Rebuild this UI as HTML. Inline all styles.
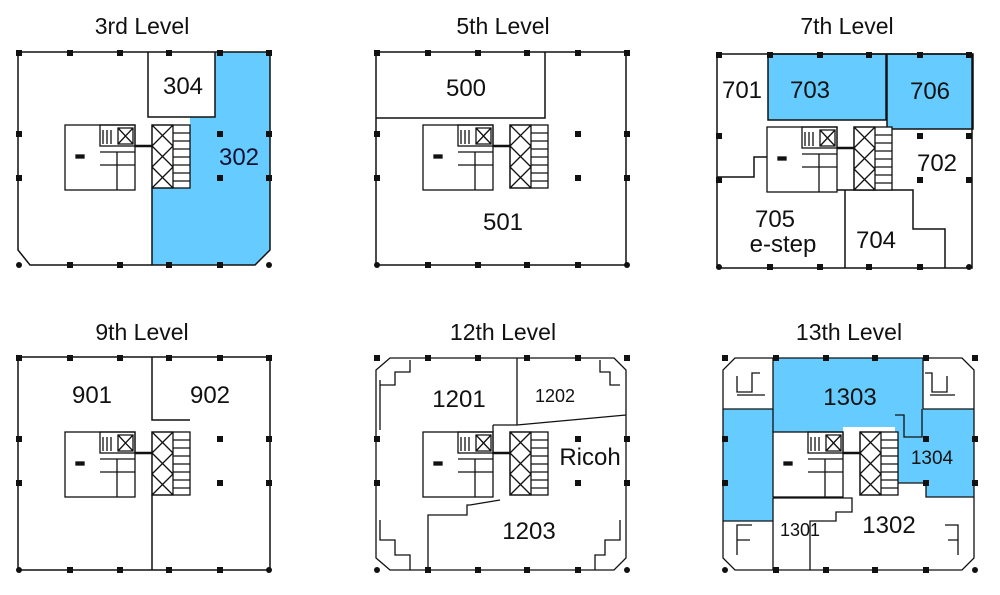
<!DOCTYPE html>
<html><head><style>
html,body{margin:0;padding:0;background:#fff;}
svg{display:block;}
text{font-family:"Liberation Sans",sans-serif;fill:#111;}
.t{font-size:23px;text-anchor:middle;}
.n{font-size:24px;text-anchor:middle;}
</style></head><body>
<svg width="1000" height="595" viewBox="0 0 1000 595" xmlns="http://www.w3.org/2000/svg">
<defs>
<g id="core" stroke="#111" stroke-width="1.3" fill="none">
  <rect x="65" y="125" width="70" height="65" fill="#fff"/>
  <rect x="100" y="125" width="35" height="21"/>
  <path d="M118 128h15v16h-15z M118 128l15 16 M133 128l-15 16"/>
  <path d="M103 130v14 M107 130v14 M111 130v14"/>
  <path d="M100 152h35 M117 152v38 M100 165h35"/>
  <rect x="152" y="125" width="38" height="63" fill="#fff"/>
  <path d="M152 125h21v63h-21z M152 125l21 21 M173 125l-21 21 M152 146l21 21 M173 146l-21 21 M152 167l21 21 M173 167l-21 21"/>
  <path d="M173 133h17 M173 141h17 M173 149h17 M173 157h17 M173 165h17 M173 173h17 M173 181h17"/>
  <path d="M135 146h17" stroke-width="2.5"/>
  <rect x="76" y="155" width="8" height="3" fill="#111"/>
</g>
<g id="cols" fill="#111">
  <rect x="16" y="50" width="6" height="6"/><rect x="67" y="50" width="6" height="6"/><rect x="117" y="50" width="6" height="6"/><rect x="166" y="50" width="6" height="6"/><rect x="217" y="50" width="6" height="6"/><rect x="266" y="50" width="6" height="6"/>
  <rect x="16" y="131" width="6" height="6"/><rect x="266" y="131" width="6" height="6"/><rect x="16" y="175" width="6" height="6"/><rect x="266" y="175" width="6" height="6"/>
  <rect x="217" y="131" width="6" height="6"/><rect x="217" y="175" width="6" height="6"/>
  <rect x="67" y="262" width="6" height="6"/><rect x="117" y="262" width="6" height="6"/><rect x="166" y="262" width="6" height="6"/><rect x="217" y="262" width="6" height="6"/>
  <circle cx="19" cy="265" r="3"/><circle cx="269" cy="265" r="3"/>
</g>
</defs>

<text class="t" x="142" y="34">3rd Level</text>
<text class="t" x="503" y="34">5th Level</text>
<text class="t" x="847" y="34">7th Level</text>
<text class="t" x="142" y="340">9th Level</text>
<text class="t" x="503" y="340">12th Level</text>
<text class="t" x="849" y="340">13th Level</text>

<!-- 3rd -->
<g stroke="#111" stroke-width="1.5" fill="none">
  <path d="M215 52 H270 V250 L255 265 H152 V188 H190 V117 H215Z" fill="#66ccff" stroke="none"/>
  <path d="M18 52H270V250L255 265H30L18 250Z"/>
  <path d="M148 52V117H215V52 M152 188V265"/>
</g>
<use href="#core"/>
<use href="#cols"/>
<text class="n" x="183" y="94">304</text>
<text class="n" x="239" y="165" style="fill:#113">302</text>

<!-- 5th -->
<g stroke="#111" stroke-width="1.5" fill="none">
  <path d="M376 52H626V265H376Z"/>
  <path d="M376 118H545V52"/>
</g>
<use href="#core" x="358"/>
<use href="#cols" x="358"/>
<text class="n" x="466" y="96">500</text>
<text class="n" x="503" y="230">501</text>

<!-- 7th -->
<g stroke="#111" stroke-width="1.5" fill="none">
  <rect x="768" y="54" width="118" height="66" fill="#66ccff"/>
  <rect x="887" y="54" width="86" height="75" fill="#66ccff"/>
  <path d="M717 54H972V268H717Z"/>
  <path d="M717 177H754V157H768V190H913V229H945V268 M845 190V268"/>
</g>
<use href="#core" x="702" y="2"/>
<use href="#cols" x="700" y="2"/>
<text class="n" x="742" y="98">701</text>
<text class="n" x="810" y="98">703</text>
<text class="n" x="930" y="99">706</text>
<text class="n" x="937" y="171">702</text>
<text class="n" x="775" y="227">705</text>
<text class="n" x="783" y="252">e-step</text>
<text class="n" x="876" y="248">704</text>

<!-- 9th -->
<g stroke="#111" stroke-width="1.5" fill="none">
  <path d="M18 357H270V570H18Z"/>
  <path d="M152 357V420H190 M152 495V570"/>
</g>
<use href="#core" y="307"/>
<use href="#cols" y="305"/>
<text class="n" x="92" y="403">901</text>
<text class="n" x="210" y="403">902</text>

<!-- 12th -->
<g stroke="#111" stroke-width="1.3" fill="none">
  <path d="M390 358H614L626 370V558L614 570H390L376 558V370Z"/>
  <path d="M517 358V425 M493 425H517L626 415 M493 425V432 M500 500L470 505H467V515H428V570"/>
  <path d="M380 385H395V372H410V360 M380 430V380 M600 360V372H610V385H620 M380 520V540H395V555H410V570 M620 520V540H605V555H595V570"/>
</g>
<use href="#core" x="358" y="307"/>
<use href="#cols" x="358" y="305"/>
<text class="n" x="459" y="407">1201</text>
<text class="n" x="555" y="402" style="font-size:18px">1202</text>
<text class="n" x="590" y="465">Ricoh</text>
<text class="n" x="529" y="539">1203</text>

<!-- 13th -->
<g stroke="#111" stroke-width="1.3" fill="none">
  <path d="M773 358H923V409H974V497H926V483H895V427H843V432H773V521H723V409H773Z" fill="#66ccff" stroke="none"/>
  <path d="M735 358H962L974 370V558L962 570H735L723 558V370Z"/>
  <path d="M773 358V409 M923 358V409 M723 409H773 M923 409H974 M895 415H904V437H922V409 M926 483V497H974 M773 498V570 M773 521H723 M773 498H852V512H836V521H810V570 M895 483H926 M773 409V432"/>
  <path d="M737 376V392H752V373H760 M737 395H765 M947 376V392H932V373H925 M955 395H930 M737 540V525H752 M737 555V540H750 M958 540V525H945 M958 555V540H948"/>
</g>
<use href="#core" x="708" y="307"/>
<use href="#cols" x="706" y="305"/>
<text class="n" x="850" y="405">1303</text>
<text class="n" x="932" y="464" style="font-size:19px">1304</text>
<text class="n" x="800" y="536" style="font-size:18px">1301</text>
<text class="n" x="889" y="533">1302</text>
</svg>
</body></html>
